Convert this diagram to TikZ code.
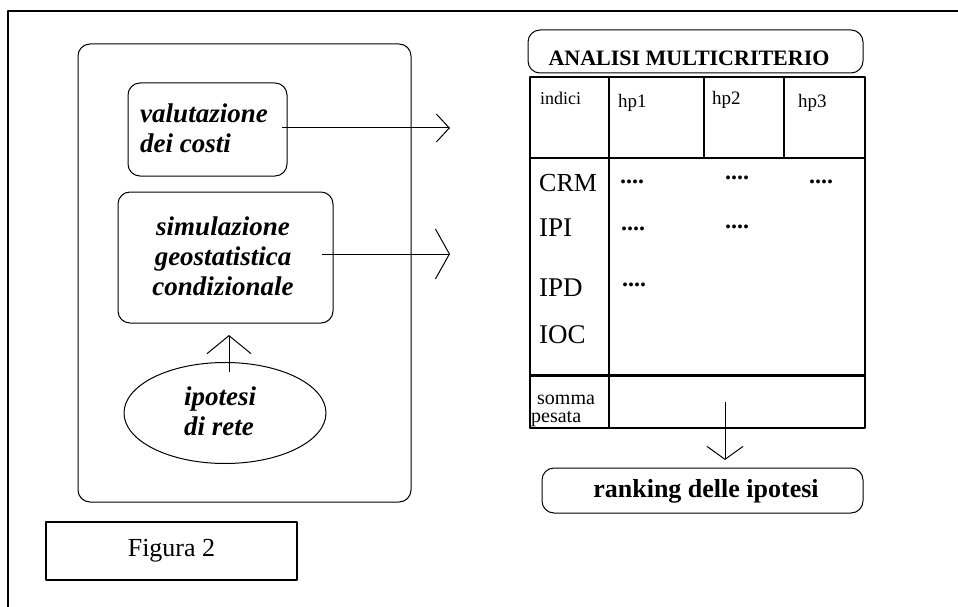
\documentclass[tikz,border=0pt]{standalone}
\usepackage{fontspec}
\setmainfont{Liberation Serif}
\usetikzlibrary{arrows.meta,shapes.geometric}
\newcommand{\fsz}[1]{\fontsize{#1}{#1}\selectfont}
\begin{document}
\begin{tikzpicture}[x=1pt,y=-1pt,line join=round,
  rbox/.style={draw,rounded corners=12pt,line width=1pt,inner sep=0pt},
  sqbox/.style={draw,line width=1.5pt,inner sep=0pt},
  itl/.style={inner sep=0pt,align=left,font=\fsz{27}\bfseries\itshape,
              execute at begin node={\baselineskip=30pt}},
  cell/.style={inner sep=0pt,anchor=west},
  dots/.style={inner sep=0pt,font=\fsz{24}\bfseries},
  conn/.style={line width=1pt},
  grid/.style={line width=1.3pt}
]
\useasboundingbox (0,0) rectangle (958,607);
% outer frame (open to the right and bottom)
\draw[line width=1.5pt] (8,607) -- (8,11) -- (958,11);

% left part
\node[rbox,minimum width=333pt,minimum height=458pt] (big) at (244.5,273) {};
\node[rbox,minimum width=159pt,minimum height=93pt] (val) at (207.5,129.5) {};
\node[itl] (valt) at (204,128) {valutazione\\dei costi};
\node[rbox,minimum width=215pt,minimum height=131pt] (sim) at (225.5,257.5) {};
\node[itl,align=center] (simt) at (223,256) {simulazione\\geostatistica\\condizionale};
\node[draw,ellipse,line width=1pt,minimum width=202pt,minimum height=101pt,inner sep=0pt] (ip) at (225,413) {};
\node[itl] (ipt) at (220,411) {ipotesi\\di rete};
\node[sqbox,minimum width=251pt,minimum height=58pt] (fig) at (171.5,551) {};
\node[inner sep=0pt,font=\fsz{26}] (figt) at (fig.center) {Figura 2};

% connectors
\coordinate (a1s) at (282,128);
\coordinate (a1e) at (450,128);
\coordinate (a2s) at (322,254);
\coordinate (a2e) at (450,254);
\coordinate (a3s) at (229,372);
\coordinate (a3e) at (229,335);
\draw[conn,-{Straight Barb[length=13pt,width=28pt,line width=1pt]}] (a1s) -- (a1e);
\draw[conn,-{Straight Barb[length=14pt,width=50pt,line width=1pt]}] (a2s) -- (a2e);
\draw[conn,-{Straight Barb[length=18pt,width=44pt,line width=1pt]}] (a3s) -- (a3e);

% right part
\node[rbox,minimum width=335pt,minimum height=43pt] (anal) at (695.5,51.5) {};
\node[inner sep=0pt,font=\fsz{22}\bfseries] (analt) at (689,58.5) {ANALISI MULTICRITERIO};

\node[draw,grid,minimum width=335pt,minimum height=351pt,inner sep=0pt] (tab) at (697.5,252.5) {};
\draw[grid] (609,77) -- (609,428);
\draw[grid] (704,77) -- (704,158);
\draw[grid] (784,77) -- (784,158);
\draw[grid] (530,158) -- (865,158);
\draw[line width=3pt] (530,375.5) -- (865,375.5);

\node[cell,font=\fsz{18}] (indici) at (540,98) {indici};
\node[cell,font=\fsz{19}] (hp1) at (618,103) {hp1};
\node[cell,font=\fsz{19}] (hp2) at (712,100) {hp2};
\node[cell,font=\fsz{19}] (hp3) at (798,103) {hp3};
\node[cell,font=\fsz{26}] (crm) at (539,183) {CRM};
\node[cell,font=\fsz{27}] (ipi) at (539,228) {IPI};
\node[cell,font=\fsz{27}] (ipd) at (539,288) {IPD};
\node[cell,font=\fsz{27}] (ioc) at (539,335) {IOC};
\node[dots] (d11) at (632,182) {....};
\node[dots] (d12) at (737,178) {....};
\node[dots] (d13) at (821,182) {....};
\node[dots] (d21) at (633,229) {....};
\node[dots] (d22) at (737,227) {....};
\node[dots] (d31) at (634,285) {....};
\node[inner sep=0pt,anchor=base west,font=\fsz{20}] (somma) at (537,404) {somma};
\node[inner sep=0pt,anchor=base west,font=\fsz{20}] (pesata) at (531,422) {pesata};

\node[rbox,minimum width=321pt,minimum height=45pt] (rank) at (702.5,490.5) {};
\node[inner sep=0pt,font=\fsz{26}\bfseries] (rankt) at (706,491) {ranking delle ipotesi};

\coordinate (a4s) at (725,402);
\coordinate (a4e) at (725,460);
\draw[conn,-{Straight Barb[length=13pt,width=36pt,line width=1pt]}] (a4s) -- (a4e);
\end{tikzpicture}
\end{document}
